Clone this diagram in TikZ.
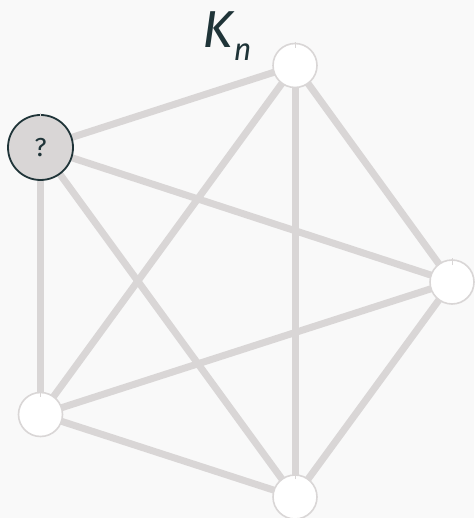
\documentclass[tikz,border=0pt]{standalone}
\usepackage{fontspec}
\setmainfont{Fira Sans}
\definecolor{bgc}{HTML}{F9F9F9}
\definecolor{edgec}{HTML}{D9D6D6}
\definecolor{darkc}{HTML}{1F3438}
\begin{document}
\begin{tikzpicture}[x=1pt,y=-1pt,
  vert/.style={circle,draw=edgec,line width=1.6pt,fill=white,minimum size=44pt,inner sep=0pt},
  askvert/.style={circle,draw=darkc,line width=1.8pt,fill=edgec,minimum size=65pt,inner sep=0pt,
    text=darkc,font=\fontsize{26}{26}\selectfont},
  edge/.style={draw=edgec,line width=7pt},
  nodetick/.style={draw=edgec,line width=1pt}]
  \fill[bgc] (0,0) rectangle (474,518);
  \useasboundingbox (0,0) rectangle (474,518);
  % vertex positions
  \coordinate (pa) at (40.5,147.5);
  \coordinate (pb) at (295,65.5);
  \coordinate (pc) at (452,282);
  \coordinate (pd) at (295,497);
  \coordinate (pe) at (40.5,414.5);
  % edges of the complete graph
  \foreach \u/\v in {pa/pb,pa/pc,pa/pd,pa/pe,pb/pc,pb/pd,pb/pe,pc/pd,pc/pe,pd/pe}
    \draw[edge] (\u) -- (\v);
  % vertices
  \node[askvert] (a) at (pa) {?};
  \node[vert] (b) at (pb) {};
  \node[vert] (c) at (pc) {};
  \node[vert] (d) at (pd) {};
  \node[vert] (e) at (pe) {};
  % small marks on top of the vertices
  \foreach \n/\l in {a/5,b/5,c/6,d/5,e/5}
    \draw[nodetick] ([yshift=-\l pt]\n.north) -- ([yshift=1pt]\n.north);
  % title
  \node[text=darkc,font=\fontsize{52}{52}\selectfont\itshape,inner sep=0pt,anchor=base] (title) at (227,48) {K\kern0.02em\raisebox{-0.25em}{\fontsize{31}{31}\selectfont n}};
\end{tikzpicture}
\end{document}
